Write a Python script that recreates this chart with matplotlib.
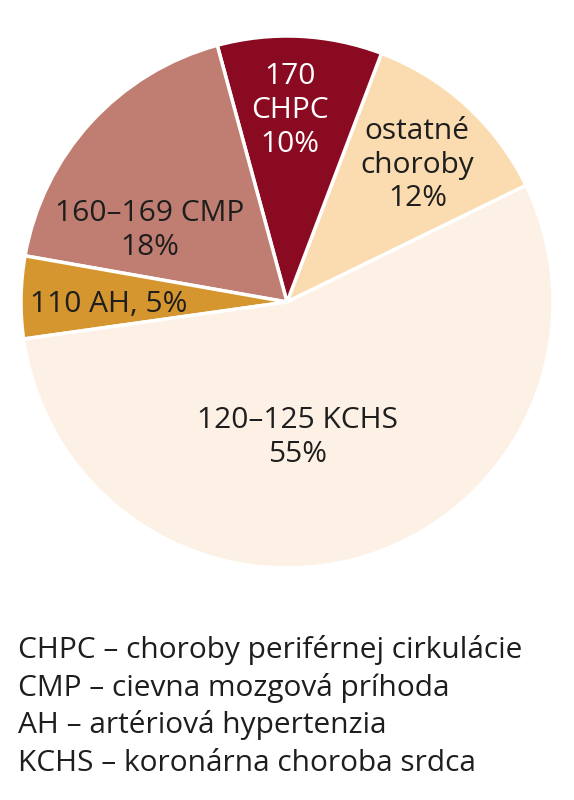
import matplotlib
matplotlib.use('Agg')
from matplotlib import pyplot as plt

plt.rcParams['font.family'] = ['Open Sans', 'DejaVu Sans']

# slices, counterclockwise from the ostatne / KCHS border
labels = ['ostatné\nchoroby', '170\nCHPC', '160–169 CMP', '110 AH', '120–125 KCHS']
values = [12, 10, 18, 5, 55]
colors = ['#fadcb0', '#8a0b21', '#c07d71', '#d5962f', '#fdf1e5']
text_colors = ['#1e1e1e', 'white', '#1e1e1e', '#1e1e1e', '#1e1e1e']
# where each slice label sits (pie data coords)
label_pos = [(0.49, 0.515), (0.01, 0.72), (-0.515, 0.27), (-0.67, -0.01), (0.04, -0.51)]

legend_lines = ['CHPC – choroby periférnej cirkulácie',
                'CMP – cievna mozgová príhoda',
                'AH – artériová hypertenzia',
                'KCHS – koronárna choroba srdca']

fig = plt.figure(figsize=(5.74, 8), dpi=100)
ax = fig.add_axes([21/574, 232/800, 532/574, 532/800])
wedges, _ = ax.pie(values, colors=colors, startangle=26, counterclock=True,
                   radius=1, wedgeprops=dict(edgecolor='white', linewidth=2.5))
ax.set_xlim(-1, 1)
ax.set_ylim(-1, 1)
ax.set_aspect('equal')
ax.axis('off')

for lab, v, (x, y), tc in zip(labels, values, label_pos, text_colors):
    if lab.startswith('110'):
        txt = lab + ', %d%%' % v
    else:
        txt = lab + '\n%d%%' % v
    ax.text(x, y, txt, ha='center', va='center', fontsize=21.5, color=tc,
            linespacing=1.22)

for i, line in enumerate(legend_lines):
    fig.text(18/574, 1 - (650 + i*37.7)/800, line, ha='left', va='center',
             fontsize=21.5, color='#1e1e1e')

fig.savefig('out.png', dpi=100, facecolor='white')
